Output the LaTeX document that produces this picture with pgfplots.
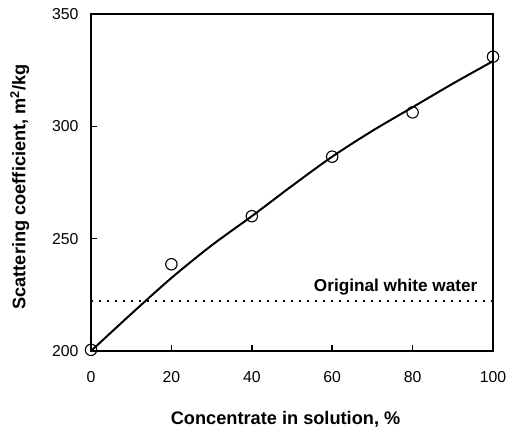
\documentclass[border=0pt]{standalone}
\usepackage{pgfplots}
\pgfplotsset{compat=1.18}
\usepackage{fontspec}
\setmainfont{Liberation Sans}
\begin{document}
\begin{tikzpicture}
\begin{axis}[
    scale only axis,
    width=402pt, height=337pt,
    xmin=0, xmax=100, ymin=200, ymax=350,
    xtick={0,20,40,60,80,100},
    ytick={200,250,300,350},
    tick align=inside,
    xtick pos=bottom, ytick pos=left,
    major tick length=6pt,
    axis line style={line width=1.8pt},
    tick style={line width=1.5pt, black},
    /pgf/number format/assume math mode=true,
    ticklabel style={font=\fontsize{15.8}{18}\selectfont},
    xticklabel style={yshift=-17pt},
    yticklabel style={xshift=-9pt},
    xlabel={\textbf{Concentrate in solution, \%}},
    ylabel={\textbf{Scattering coefficient, m\textsuperscript{2}/kg}},
    xlabel style={at={(axis description cs:0.484,-0.202)}, anchor=center,
        font=\fontsize{18.2}{21}\selectfont},
    ylabel style={at={(axis description cs:-0.177,0.487)}, anchor=center,
        font=\fontsize{18.2}{21}\selectfont},
    clip=false,
]
% fitted curve
\addplot[black, line width=2pt, smooth, no marks] coordinates {
    (0,200) (10,216.5) (20,232.5) (30,247) (40,260) (50,273.5)
    (60,286.5) (70,298) (80,308.5) (90,319) (100,329)
};
% measured points
\addplot[only marks, mark=o, mark size=5.7pt, mark options={line width=1.1pt, fill=white}, black]
    coordinates {(0,200.5) (20,238.6) (40,260) (60,286.5) (80,306.2) (100,331)};
% original white water
\addplot[black, line width=1.4pt, dash pattern=on 1.6pt off 6.4pt, no marks]
    coordinates {(0,222.3) (100,222.3)};
\node[anchor=base east, font=\bfseries\fontsize{17.2}{20}\selectfont]
    at (axis cs:97,226.5) {Original white water};
\end{axis}
\pgfresetboundingbox
\useasboundingbox (current axis.south west) ++(-91pt,-80pt) rectangle ++(506pt,431pt);
\end{tikzpicture}
\end{document}
